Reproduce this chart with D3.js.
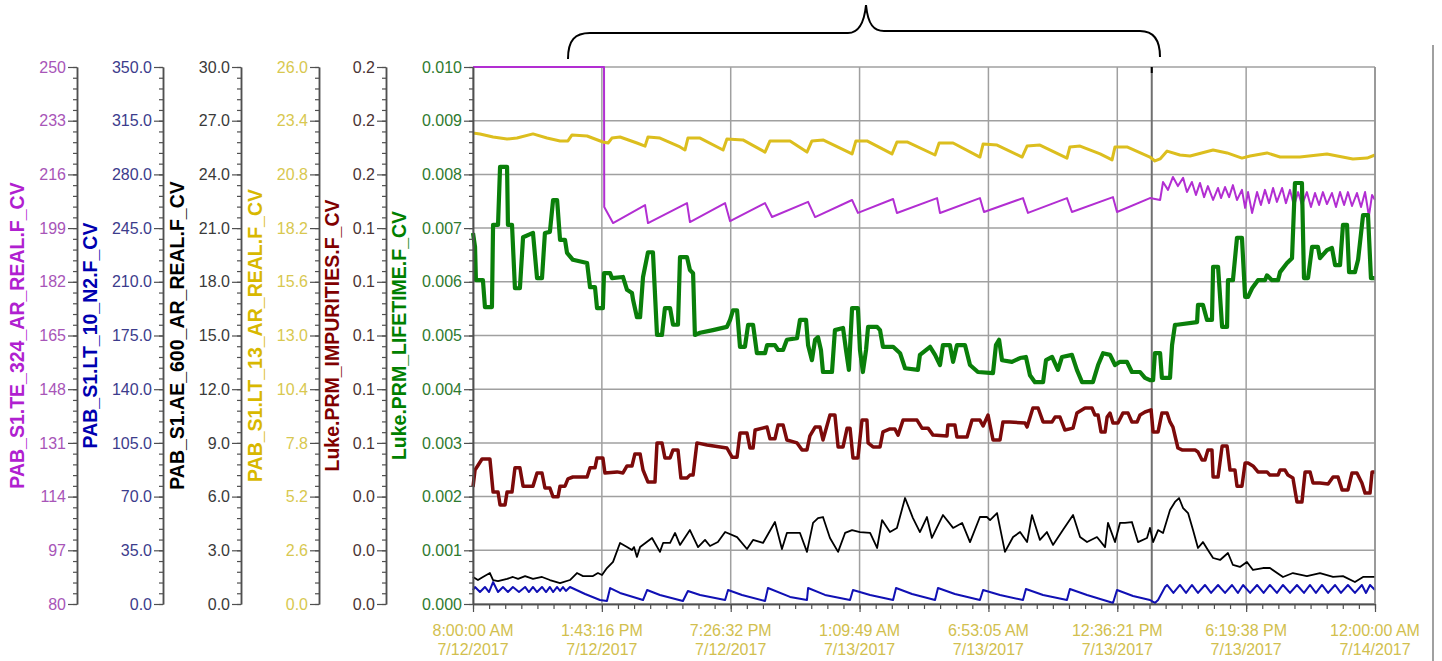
<!DOCTYPE html>
<html><head><meta charset="utf-8">
<script src="https://cdn.jsdelivr.net/npm/d3@7"></script>
<style>body{margin:0;background:#fff;}svg{display:block;}</style>
</head><body><svg id="chart" width="1442" height="661"></svg>
<script>
// ---------------- DATA ----------------
const timeStart = new Date(2017, 6, 12, 8, 0, 0);
const timeEnd = new Date(2017, 6, 14, 0, 0, 0);
const xTickTimes = ["8:00:00 AM","1:43:16 PM","7:26:32 PM","1:09:49 AM","6:53:05 AM","12:36:21 PM","6:19:38 PM","12:00:00 AM"];
const xTickDays = ["7/12/2017","7/12/2017","7/12/2017","7/13/2017","7/13/2017","7/13/2017","7/13/2017","7/14/2017"];

const axisNames = ["PAB_S1.TE_324_AR_REAL.F_CV","PAB_S1.LT_10_N2.F_CV","PAB_S1.AE_600_AR_REAL.F_CV","PAB_S1.LT_13_AR_REAL.F_CV","Luke.PRM_IMPURITIES.F_CV","Luke.PRM_LIFETIME.F_CV"];
const te324Domain = [80, 250];
const lt10Domain = [0, 350];
const ae600Domain = [0, 30];
const lt13Domain = [0, 26];
const impuritiesDomain = [0, 0.2];
const lifetimeDomain = [0, 0.010];
// tick labels, bottom to top
const te324Ticks = ["80","97","114","131","148","165","182","199","216","233","250"];
const lt10Ticks = ["0.0","35.0","70.0","105.0","140.0","175.0","210.0","245.0","280.0","315.0","350.0"];
const ae600Ticks = ["0.0","3.0","6.0","9.0","12.0","15.0","18.0","21.0","24.0","27.0","30.0"];
const lt13Ticks = ["0.0","2.6","5.2","7.8","10.4","13.0","15.6","18.2","20.8","23.4","26.0"];
const impuritiesTicks = ["0.0","0.0","0.0","0.1","0.1","0.1","0.1","0.1","0.2","0.2","0.2"];
const lifetimeTicks = ["0.000","0.001","0.002","0.003","0.004","0.005","0.006","0.007","0.008","0.009","0.010"];

// series: [hours since 7/12/2017 8:00 AM, value]
const te324Data = [[0,250],[5.81,250],[5.82,205.7],[6.21,200.6],[7.63,206.3],[7.76,200.6],[9.49,206.9],[9.62,200.9],[11.18,206.9],[11.40,201.2],[12.95,206.9],[13.26,202.5],[14.86,207.3],[15.17,202.5],[16.81,207.9],[17.07,203.8],[18.63,208.2],[18.80,203.8],[20.58,208.5],[20.71,203.8],[22.48,208.5],[22.66,204.1],[24.39,208.5],[24.61,203.8],[26.34,208.5],[26.56,204.1],[28.38,208.8],[28.56,204.1],[30.02,208.5],[30.47,207.9],[30.60,213.6],[30.82,211.1],[31.04,215.2],[31.26,212.3],[31.49,214.9],[31.66,210.4],[31.88,213.6],[32.06,209.5],[32.24,213.3],[32.42,208.8],[32.59,212.3],[32.82,207.9],[33.04,211.7],[33.17,208.5],[33.35,212.0],[33.53,208.8],[33.70,212.6],[33.88,207.9],[34.10,211.1],[34.24,205.4],[34.37,210.4],[34.55,203.8],[34.77,210.4],[34.94,206.3],[35.12,211.1],[35.30,206.9],[35.48,211.7],[35.65,207.3],[35.88,211.7],[36.05,206.9],[36.23,211.1],[36.41,206.0],[36.59,210.4],[36.76,206.3],[36.98,210.4],[37.16,205.7],[37.34,210.1],[37.52,206.3],[37.69,210.4],[37.87,206.6],[38.09,210.1],[38.27,205.7],[38.45,210.4],[38.63,206.3],[38.80,210.4],[38.98,206.0],[39.20,210.1],[39.38,205.7],[39.56,210.4],[39.73,202.8],[39.87,209.5],[40,207.9]];

const lt10Data = [[0,9.1],[0.09,11.1],[0.31,7.8],[0.53,11.1],[0.71,7.8],[0.89,14.3],[1.11,7.8],[1.33,11.1],[1.55,7.8],[1.77,11.1],[2.04,7.8],[2.31,11.1],[2.48,7.8],[2.66,11.1],[2.84,7.8],[3.06,11.1],[3.24,7.8],[3.41,11.1],[3.55,7.8],[3.73,11.1],[3.86,8.5],[3.99,11.1],[4.12,8.5],[4.30,11.1],[4.97,6.5],[5.63,2.6],[5.94,2.0],[6.08,10.4],[6.52,7.2],[7.54,2.6],[7.72,9.1],[8.29,5.9],[9.31,2.0],[9.53,8.5],[10.07,5.9],[11.18,2.6],[11.31,9.1],[11.93,5.9],[12.95,2.0],[13.08,10.4],[14.06,4.6],[14.81,2.6],[14.86,10.4],[15.61,5.9],[16.72,2.6],[16.85,9.1],[17.61,5.9],[18.63,2.6],[18.76,10.4],[19.47,6.5],[20.49,2.6],[20.62,10.4],[21.37,6.5],[22.48,2.6],[22.62,9.1],[23.37,5.9],[24.39,2.6],[24.52,9.8],[25.28,5.9],[26.34,2.6],[26.47,9.8],[27.23,5.9],[28.25,1.3],[28.38,0.7],[28.56,9.1],[29.27,5.2],[30.02,2.6],[30.24,0.7],[30.38,2.6],[30.69,11.1],[30.78,12.4],[31.06,7.2],[31.35,12.4],[31.62,7.2],[31.88,12.4],[32.15,7.2],[32.46,12.4],[32.73,7.2],[33.04,12.4],[33.35,7.2],[33.66,12.4],[33.92,7.2],[34.15,12.4],[34.46,7.2],[34.77,12.4],[35.06,7.2],[35.34,12.4],[35.65,7.2],[35.92,12.4],[36.23,7.2],[36.54,12.4],[36.85,7.2],[37.12,12.4],[37.38,7.2],[37.65,12.4],[37.92,7.2],[38.23,12.4],[38.49,7.2],[38.80,12.4],[39.11,7.2],[39.42,12.4],[39.60,7.2],[39.78,12.4],[40,9.1]];

const ae600Data = [[0,1.51],[0.22,1.34],[0.44,1.51],[0.75,1.73],[0.89,1.34],[1.11,1.28],[1.51,1.40],[1.77,1.51],[2.00,1.40],[2.31,1.56],[2.66,1.40],[3.06,1.51],[3.41,1.34],[3.86,1.17],[4.30,1.34],[4.61,1.73],[4.88,1.56],[5.32,1.56],[5.54,1.73],[5.72,1.62],[5.94,2.01],[6.21,2.35],[6.52,3.41],[6.83,3.18],[7.05,3.02],[7.14,3.18],[7.27,2.63],[7.41,3.18],[7.94,3.69],[8.29,2.91],[8.43,3.41],[8.74,3.41],[8.96,3.97],[9.18,3.30],[9.62,4.13],[9.98,3.18],[10.29,3.58],[10.51,3.24],[10.86,3.46],[11.18,4.02],[11.71,3.74],[12.15,3.07],[12.42,3.58],[12.86,3.41],[13.39,4.58],[13.70,3.07],[13.92,3.97],[14.50,3.97],[14.81,2.91],[15.08,4.53],[15.30,4.80],[15.52,4.86],[15.83,3.69],[16.19,2.91],[16.50,3.97],[16.81,4.13],[17.16,4.02],[17.61,3.97],[17.92,3.13],[18.14,4.69],[18.49,4.02],[18.80,4.25],[19.16,5.92],[19.51,4.80],[19.82,4.02],[20.13,4.86],[20.35,3.69],[20.84,4.97],[21.29,4.25],[21.69,4.53],[22.04,3.46],[22.48,4.86],[22.79,4.86],[22.93,4.69],[23.24,5.08],[23.59,2.91],[23.95,3.74],[24.26,4.02],[24.57,3.46],[24.79,4.97],[25.14,3.58],[25.45,4.02],[25.72,3.30],[26.16,4.13],[26.61,4.97],[26.92,3.74],[27.23,3.46],[27.67,3.74],[28.03,3.18],[28.16,4.53],[28.47,3.46],[28.69,4.53],[28.91,4.53],[29.22,4.58],[29.49,3.46],[29.89,3.69],[30.02,4.25],[30.16,3.46],[30.38,4.13],[30.60,3.97],[30.91,5.25],[31.13,5.70],[31.31,5.92],[31.49,5.36],[31.71,5.08],[31.93,4.13],[32.15,3.13],[32.37,3.46],[32.59,3.02],[32.82,2.57],[33.13,2.46],[33.48,2.85],[33.70,2.18],[34.01,2.07],[34.32,2.35],[34.59,1.90],[35.03,2.01],[35.34,2.01],[35.92,1.51],[36.36,1.73],[36.98,1.56],[37.56,1.73],[38.14,1.51],[38.58,1.56],[39.11,1.23],[39.47,1.51],[40,1.51]];

const lt13Data = [[0,22.80],[0.31,22.76],[0.89,22.61],[1.51,22.51],[1.95,22.56],[2.66,22.76],[3.28,22.56],[3.86,22.42],[4.21,22.42],[4.39,22.71],[5.06,22.66],[5.76,22.37],[5.99,22.32],[6.16,22.56],[6.52,22.61],[7.27,22.32],[7.63,22.17],[7.76,22.61],[8.29,22.56],[9.18,22.13],[9.40,21.98],[9.53,22.56],[10.07,22.56],[11.09,21.98],[11.26,22.51],[11.97,22.47],[12.95,21.88],[13.17,22.42],[14.06,22.42],[14.81,21.88],[15.03,22.42],[15.52,22.47],[16.81,21.79],[16.98,22.42],[17.47,22.42],[18.58,21.79],[18.80,22.37],[19.25,22.37],[20.49,21.74],[20.67,22.32],[21.29,22.32],[22.48,21.64],[22.62,22.27],[23.24,22.22],[24.35,21.64],[24.57,22.17],[25.14,22.22],[26.34,21.59],[26.47,22.13],[26.92,22.17],[27.81,21.79],[28.34,21.50],[28.47,22.13],[29.00,22.13],[30.02,21.64],[30.24,21.45],[30.47,21.55],[30.78,21.93],[31.35,21.74],[31.80,21.69],[32.82,21.98],[33.44,21.84],[34.10,21.59],[34.46,21.69],[35.21,21.84],[35.79,21.64],[36.67,21.64],[37.87,21.79],[39.02,21.55],[39.65,21.59],[40,21.74]];

const impuritiesData = [[0,0.0436],[0.09,0.0499],[0.40,0.0540],[0.75,0.0540],[0.89,0.0417],[1.11,0.0417],[1.20,0.0369],[1.42,0.0369],[1.51,0.0417],[1.73,0.0417],[1.86,0.0507],[2.08,0.0507],[2.22,0.0439],[2.66,0.0439],[2.84,0.0488],[3.06,0.0488],[3.19,0.0432],[3.41,0.0432],[3.55,0.0399],[3.77,0.0399],[3.86,0.0439],[4.08,0.0439],[4.21,0.0466],[4.43,0.0473],[5.06,0.0473],[5.19,0.0507],[5.41,0.0507],[5.50,0.0544],[5.76,0.0544],[5.85,0.0488],[6.39,0.0492],[6.65,0.0488],[6.83,0.0514],[7.05,0.0514],[7.18,0.0559],[7.41,0.0559],[7.54,0.0499],[7.76,0.0454],[8.07,0.0454],[8.16,0.0600],[8.38,0.0600],[8.51,0.0544],[8.74,0.0544],[8.87,0.0574],[9.09,0.0574],[9.22,0.0469],[9.49,0.0469],[9.62,0.0480],[9.76,0.0480],[9.93,0.0600],[10.38,0.0592],[11.26,0.0581],[11.49,0.0547],[11.71,0.0547],[11.84,0.0637],[12.15,0.0637],[12.28,0.0581],[12.42,0.0581],[12.51,0.0648],[13.04,0.0659],[13.17,0.0615],[13.39,0.0615],[13.53,0.0667],[13.75,0.0667],[13.92,0.0611],[14.37,0.0600],[14.59,0.0574],[14.81,0.0574],[14.94,0.0626],[15.17,0.0659],[15.39,0.0659],[15.52,0.0611],[15.83,0.0704],[16.05,0.0704],[16.19,0.0585],[16.41,0.0585],[16.59,0.0655],[16.72,0.0655],[16.85,0.0544],[17.07,0.0544],[17.25,0.0685],[17.47,0.0685],[17.52,0.0600],[17.74,0.0585],[18.05,0.0585],[18.18,0.0641],[18.49,0.0652],[18.71,0.0652],[18.85,0.0629],[19.07,0.0685],[19.69,0.0685],[19.91,0.0655],[20.18,0.0655],[20.40,0.0629],[21.02,0.0626],[21.06,0.0667],[21.37,0.0667],[21.46,0.0622],[21.91,0.0622],[22.13,0.0685],[22.48,0.0685],[22.62,0.0663],[22.84,0.0704],[23.06,0.0611],[23.37,0.0611],[23.50,0.0678],[23.81,0.0678],[24.48,0.0674],[24.57,0.0659],[24.83,0.0730],[25.06,0.0730],[25.28,0.0678],[25.68,0.0678],[25.81,0.0696],[26.03,0.0696],[26.25,0.0648],[26.61,0.0655],[26.78,0.0711],[27.14,0.0730],[27.45,0.0730],[27.58,0.0704],[27.72,0.0704],[27.85,0.0641],[28.03,0.0641],[28.12,0.0696],[28.25,0.0711],[28.38,0.0674],[28.60,0.0674],[28.82,0.0711],[29.05,0.0711],[29.22,0.0678],[29.45,0.0678],[29.58,0.0704],[29.80,0.0715],[30.07,0.0723],[30.16,0.0641],[30.38,0.0641],[30.55,0.0711],[30.78,0.0711],[30.91,0.0678],[31.04,0.0659],[31.26,0.0581],[31.44,0.0574],[32.02,0.0574],[32.15,0.0566],[32.33,0.0536],[32.46,0.0536],[32.59,0.0574],[32.77,0.0574],[32.82,0.0473],[33.04,0.0473],[33.22,0.0588],[33.44,0.0588],[33.57,0.0499],[33.79,0.0499],[33.88,0.0439],[34.10,0.0439],[34.24,0.0525],[34.37,0.0525],[34.59,0.0514],[34.81,0.0492],[35.21,0.0492],[35.34,0.0480],[35.70,0.0480],[35.79,0.0499],[36.01,0.0499],[36.14,0.0480],[36.36,0.0469],[36.54,0.0380],[36.76,0.0380],[36.90,0.0492],[37.12,0.0492],[37.25,0.0451],[37.56,0.0451],[37.92,0.0447],[38.14,0.0473],[38.36,0.0473],[38.54,0.0425],[38.80,0.0425],[38.98,0.0488],[39.20,0.0488],[39.42,0.0451],[39.56,0.0413],[39.78,0.0413],[39.87,0.0492],[40,0.0492]];

const lifetimeData = [[0,0.00691],[0.09,0.00665],[0.13,0.00603],[0.44,0.00603],[0.53,0.00553],[0.84,0.00553],[0.89,0.00706],[1.11,0.00706],[1.20,0.00814],[1.51,0.00814],[1.55,0.00706],[1.73,0.00706],[1.86,0.00588],[2.08,0.00588],[2.22,0.00683],[2.66,0.00691],[2.84,0.00607],[3.06,0.00607],[3.19,0.00691],[3.41,0.00693],[3.55,0.00752],[3.73,0.00752],[3.86,0.00678],[4.08,0.00678],[4.17,0.00654],[4.43,0.00641],[5.06,0.00635],[5.19,0.00590],[5.41,0.00590],[5.50,0.00551],[5.76,0.00551],[5.81,0.00616],[6.08,0.00616],[6.16,0.00607],[6.65,0.00609],[6.83,0.00585],[7.05,0.00579],[7.10,0.00566],[7.27,0.00534],[7.41,0.00534],[7.54,0.00609],[7.76,0.00655],[7.98,0.00655],[8.16,0.00501],[8.38,0.00501],[8.51,0.00551],[8.74,0.00551],[8.87,0.00520],[9.09,0.00520],[9.18,0.00646],[9.49,0.00646],[9.62,0.00622],[9.76,0.00616],[9.84,0.00501],[10.07,0.00505],[10.64,0.00510],[11.26,0.00516],[11.40,0.00529],[11.53,0.00547],[11.71,0.00547],[11.84,0.00479],[12.06,0.00479],[12.20,0.00520],[12.42,0.00520],[12.59,0.00467],[12.95,0.00467],[13.04,0.00482],[13.39,0.00482],[13.53,0.00473],[13.75,0.00473],[13.92,0.00492],[14.37,0.00495],[14.50,0.00529],[14.77,0.00529],[14.86,0.00482],[15.03,0.00454],[15.17,0.00492],[15.30,0.00497],[15.43,0.00473],[15.52,0.00432],[15.92,0.00432],[16.05,0.00510],[16.41,0.00514],[16.54,0.00473],[16.67,0.00436],[16.81,0.00551],[17.07,0.00551],[17.16,0.00473],[17.29,0.00432],[17.43,0.00473],[17.52,0.00516],[17.92,0.00516],[18.05,0.00510],[18.18,0.00479],[18.63,0.00479],[18.94,0.00467],[19.16,0.00439],[19.73,0.00436],[19.82,0.00464],[20.27,0.00479],[20.49,0.00464],[20.71,0.00445],[20.84,0.00482],[21.15,0.00482],[21.29,0.00451],[21.46,0.00482],[21.82,0.00482],[22.04,0.00445],[22.39,0.00432],[23.06,0.00430],[23.19,0.00482],[23.33,0.00492],[23.46,0.00454],[23.90,0.00451],[24.26,0.00458],[24.52,0.00460],[24.70,0.00426],[24.92,0.00413],[25.28,0.00413],[25.41,0.00454],[25.68,0.00460],[25.94,0.00436],[26.12,0.00460],[26.56,0.00464],[26.78,0.00436],[27.01,0.00413],[27.49,0.00413],[27.72,0.00445],[27.94,0.00467],[28.25,0.00464],[28.47,0.00445],[28.69,0.00451],[29.00,0.00451],[29.22,0.00432],[29.58,0.00432],[29.80,0.00421],[30.02,0.00417],[30.16,0.00417],[30.24,0.00467],[30.47,0.00467],[30.55,0.00421],[30.91,0.00421],[31.00,0.00482],[31.13,0.00520],[31.22,0.00520],[32.11,0.00525],[32.15,0.00557],[32.37,0.00557],[32.55,0.00529],[32.77,0.00529],[32.82,0.00628],[33.04,0.00628],[33.22,0.00516],[33.44,0.00516],[33.48,0.00603],[33.70,0.00603],[33.88,0.00682],[34.10,0.00682],[34.24,0.00572],[34.37,0.00572],[34.55,0.00588],[34.81,0.00603],[35.12,0.00603],[35.21,0.00612],[35.43,0.00603],[35.70,0.00603],[35.79,0.00618],[36.10,0.00635],[36.32,0.00644],[36.45,0.00784],[36.76,0.00784],[36.85,0.00607],[37.03,0.00607],[37.21,0.00665],[37.47,0.00665],[37.56,0.00644],[37.87,0.00659],[38.09,0.00663],[38.23,0.00631],[38.45,0.00631],[38.58,0.00706],[38.76,0.00706],[38.85,0.00618],[39.11,0.00618],[39.25,0.00641],[39.47,0.00724],[39.69,0.00724],[39.82,0.00607],[40,0.00607]];

const cursorHour = 30.1;

// ---------------- CHART ----------------
const svg = d3.select("#chart");
const FONT = "'Liberation Sans', Arial, sans-serif";
const plot = {left: 473, right: 1375, top: 67, bottom: 604};
const axisX = [77, 163, 241, 319, 386, 473];
const titleX = [24, 97, 184, 262, 339, 406];
const axisColors = ["#b020d0", "#0000b0", "#000000", "#d8b800", "#800000", "#008000"];
const labelColors = ["#a855b8", "#3c3c8c", "#3a3a3a", "#d8c850", "#4a3434", "#2f7a2f"];
const domains = [te324Domain, lt10Domain, ae600Domain, lt13Domain, impuritiesDomain, lifetimeDomain];
const tickLabels = [te324Ticks, lt10Ticks, ae600Ticks, lt13Ticks, impuritiesTicks, lifetimeTicks];

const hourToDate = h => new Date(timeStart.getTime() + h * 3600000);
const x = d3.scaleTime().domain([timeStart, timeEnd]).range([plot.left, plot.right]);
const yScales = domains.map(d => d3.scaleLinear().domain(d).range([plot.bottom, plot.top]));

const nMajorX = xTickTimes.length - 1;
const xMajor = d3.range(nMajorX + 1).map(i => new Date(timeStart.getTime() + i * (timeEnd - timeStart) / nMajorX));
const xMinor = d3.range(nMajorX * 8 + 1).map(i => new Date(timeStart.getTime() + i * (timeEnd - timeStart) / (nMajorX * 8)));

// grid
const grid = svg.append("g");
const gy = yScales[5];
const yMajorGreen = d3.range(11).map(i => lifetimeDomain[0] + (lifetimeDomain[1] - lifetimeDomain[0]) * i / 10);
grid.selectAll("line.h").data(yMajorGreen).join("line")
  .attr("x1", plot.left).attr("x2", plot.right)
  .attr("y1", d => gy(d)).attr("y2", d => gy(d))
  .attr("stroke", "#a0a0a0").attr("stroke-width", 1.5);
grid.selectAll("line.v").data(xMajor).join("line")
  .attr("x1", d => x(d)).attr("x2", d => x(d))
  .attr("y1", plot.top).attr("y2", plot.bottom)
  .attr("stroke", "#a0a0a0").attr("stroke-width", 1.5);

// cursor line
svg.append("line").attr("x1", x(hourToDate(cursorHour))).attr("x2", x(hourToDate(cursorHour)))
  .attr("y1", plot.top).attr("y2", plot.bottom).attr("stroke", "#707070").attr("stroke-width", 2);
svg.append("line").attr("x1", x(hourToDate(cursorHour))).attr("x2", x(hourToDate(cursorHour)))
  .attr("y1", plot.top).attr("y2", plot.top + 6).attr("stroke", "#000").attr("stroke-width", 2);

// series
const seriesList = [
  {data: te324Data, axis: 0, color: "#b22ed2", width: 2},
  {data: lt10Data, axis: 1, color: "#1010b4", width: 2},
  {data: ae600Data, axis: 2, color: "#000000", width: 1.8},
  {data: lt13Data, axis: 3, color: "#dcbe1e", width: 3},
  {data: impuritiesData, axis: 4, color: "#7c0a0a", width: 3.5},
  {data: lifetimeData, axis: 5, color: "#0a7f0a", width: 4.2}
];
seriesList.forEach(s => {
  const line = d3.line().x(d => x(hourToDate(d[0]))).y(d => yScales[s.axis](d[1]));
  svg.append("path").attr("d", line(s.data)).attr("fill", "none")
    .attr("stroke", s.color).attr("stroke-width", s.width)
    .attr("stroke-linejoin", "round").attr("stroke-linecap", "butt");
});

// y axes
domains.forEach((dom, k) => {
  const s = yScales[k];
  const major = d3.range(11).map(i => dom[0] + (dom[1] - dom[0]) * i / 10);
  const minor = d3.range(51).map(i => dom[0] + (dom[1] - dom[0]) * i / 50);
  const gMinor = svg.append("g").attr("transform", `translate(${axisX[k]},0)`)
    .call(d3.axisLeft(s).tickValues(minor).tickSize(4).tickSizeOuter(0).tickFormat(""));
  const gMajor = svg.append("g").attr("transform", `translate(${axisX[k]},0)`)
    .call(d3.axisLeft(s).tickValues(major).tickSize(9).tickSizeOuter(0).tickPadding(2)
      .tickFormat((d, i) => tickLabels[k][i]));
  [gMinor, gMajor].forEach(g => {
    g.selectAll("path.domain").attr("stroke", "#505050").attr("stroke-width", 1.5);
    g.selectAll(".tick line").attr("stroke", "#505050").attr("stroke-width", 1.2);
  });
  gMajor.attr("font-family", FONT).attr("font-size", 16);
  gMajor.selectAll(".tick text").attr("fill", labelColors[k]);
  svg.append("text")
    .attr("transform", `translate(${titleX[k]},${(plot.top + plot.bottom) / 2}) rotate(-90)`)
    .attr("text-anchor", "middle").attr("font-family", FONT).attr("font-weight", "bold")
    .attr("font-size", 19.5).attr("fill", axisColors[k]).text(axisNames[k]);
});

// x axis
const gxMinor = svg.append("g").attr("transform", `translate(0,${plot.bottom})`)
  .call(d3.axisBottom(x).tickValues(xMinor).tickSize(5).tickSizeOuter(0).tickFormat(""));
const gxMajor = svg.append("g").attr("transform", `translate(0,${plot.bottom})`)
  .call(d3.axisBottom(x).tickValues(xMajor).tickSize(8).tickSizeOuter(0).tickFormat(""));
[gxMinor, gxMajor].forEach(g => {
  g.selectAll("path.domain").attr("stroke", "#505050").attr("stroke-width", 1.5);
  g.selectAll(".tick line").attr("stroke", "#505050").attr("stroke-width", 1.2);
});
const xl = svg.append("g").attr("font-family", FONT).attr("font-size", 16).attr("fill", "#d2bf4e").attr("text-anchor", "middle");
xl.selectAll("text.t").data(xMajor).join("text").attr("x", d => x(d)).attr("y", plot.bottom + 32)
  .text((d, i) => xTickTimes[i]);
xl.selectAll("text.d").data(xMajor).join("text").attr("x", d => x(d)).attr("y", plot.bottom + 51)
  .text((d, i) => xTickDays[i]);

// frame right/top
svg.append("line").attr("x1", plot.right).attr("x2", plot.right).attr("y1", plot.top).attr("y2", plot.bottom)
  .attr("stroke", "#909090").attr("stroke-width", 1.5);

// brace annotation above the plot
const brace = d3.path();
brace.moveTo(568, 59);
brace.bezierCurveTo(568, 40, 575, 33, 590, 33);
brace.lineTo(848, 33);
brace.bezierCurveTo(858, 33, 864, 25, 866, 5);
brace.bezierCurveTo(868, 25, 874, 31, 884, 31);
brace.lineTo(1140, 31);
brace.bezierCurveTo(1152, 31, 1160, 38, 1160, 57);
svg.append("path").attr("d", brace.toString()).attr("fill", "none").attr("stroke", "#000").attr("stroke-width", 2);

// window edge on the right
svg.append("line").attr("x1", 1433).attr("x2", 1433).attr("y1", 45).attr("y2", 661)
  .attr("stroke", "#a0a0a0").attr("stroke-width", 2);
</script></body></html>
